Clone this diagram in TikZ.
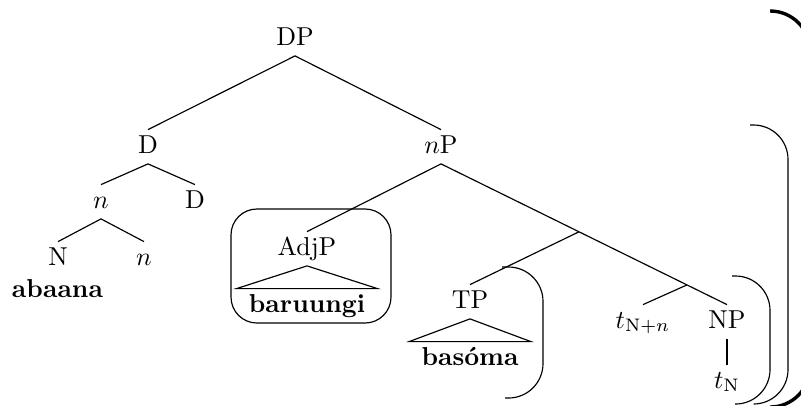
\documentclass[tikz,border=0pt]{standalone}
\usetikzlibrary{calc}
\begin{document}
\begin{tikzpicture}[x=0.386pt,y=-0.386pt,
  lab/.style={anchor=base,inner xsep=0pt,inner ysep=2pt,text height=6.83pt,text depth=2pt},
  leaf/.style={anchor=base,inner sep=0pt,font=\bfseries},
  roof/.style={lab,inner xsep=4.6pt,font=\bfseries},
  edge/.style={line width=0.45pt},
  bracket/.style={rounded corners=13.3pt,line width=0.45pt},
  thickbracket/.style={rounded corners=15.4pt,line width=1.3pt}]
\useasboundingbox (0,0) rectangle (801,405);
\clip (0,0) rectangle (801,405);

% nodes
\node[lab] (DP) at (295,45) {DP};
\node[lab] (D1) at (148,153) {D};
\node[lab] (n1) at (101,208) {$n$};
\node[lab] (D2) at (195,208) {D};
\node[lab] (N) at (58,265) {N};
\node[lab] (n2) at (144,265) {$n$};
\node[leaf] (abaana) at (57.5,297) {abaana};
\node[lab] (nP) at (441,153) {$n$P};
\node[lab] (AdjP) at (307,255) {AdjP};
\node[roof] (baruungi) at (307,312) {baruungi};
\node[lab] (TP) at (470,308) {TP};
\node[roof] (basoma) at (470,365) {basóma};
\node[lab] (tNn) at (643,328) {$t_{\mathrm{N}+n}$};
\node[lab] (NP) at (727,328) {NP};
\node[lab] (tN) at (727,388) {$t_{\mathrm{N}}$};

\coordinate (nbar) at ($(nP.south)!0.4825!(NP.north)$);
\coordinate (X) at ($(nP.south)!0.86!(NP.north)$);

% edges
\draw[edge] (DP.south) -- (D1.north);
\draw[edge] (DP.south) -- (nP.north);
\draw[edge] (D1.south) -- (n1.north);
\draw[edge] (D1.south) -- (D2.north);
\draw[edge] (n1.south) -- (N.north);
\draw[edge] (n1.south) -- (n2.north);
\draw[edge] (nP.south) -- (AdjP.north);
\draw[edge] (nP.south) -- (nbar) -- (X) -- (NP.north);
\draw[edge] (nbar) -- (TP.north);
\draw[edge] (X) -- (tNn.north);
\draw[edge] (NP.south) -- (tN.north);

% roofs
\draw[edge] (AdjP.south) -- (baruungi.north west) -- (baruungi.north east) -- cycle;
\draw[edge] (TP.south) -- (basoma.north west) -- (basoma.north east) -- cycle;

% box round AdjP
\draw[edge,rounded corners=10pt] (231,209) rectangle (391,323);

% brackets
\draw[bracket] (502,267) -- (543,267) -- (543,398) -- (505,398);
\draw[bracket] (732,276) -- (770,276) -- (770,404) -- (735,404);
\draw[bracket] (750,125) -- (788,125) -- (788,404) -- (755,404);
\draw[thickbracket] (770,11) -- (810,11) -- (810,407) -- (775,407);
\end{tikzpicture}
\end{document}
